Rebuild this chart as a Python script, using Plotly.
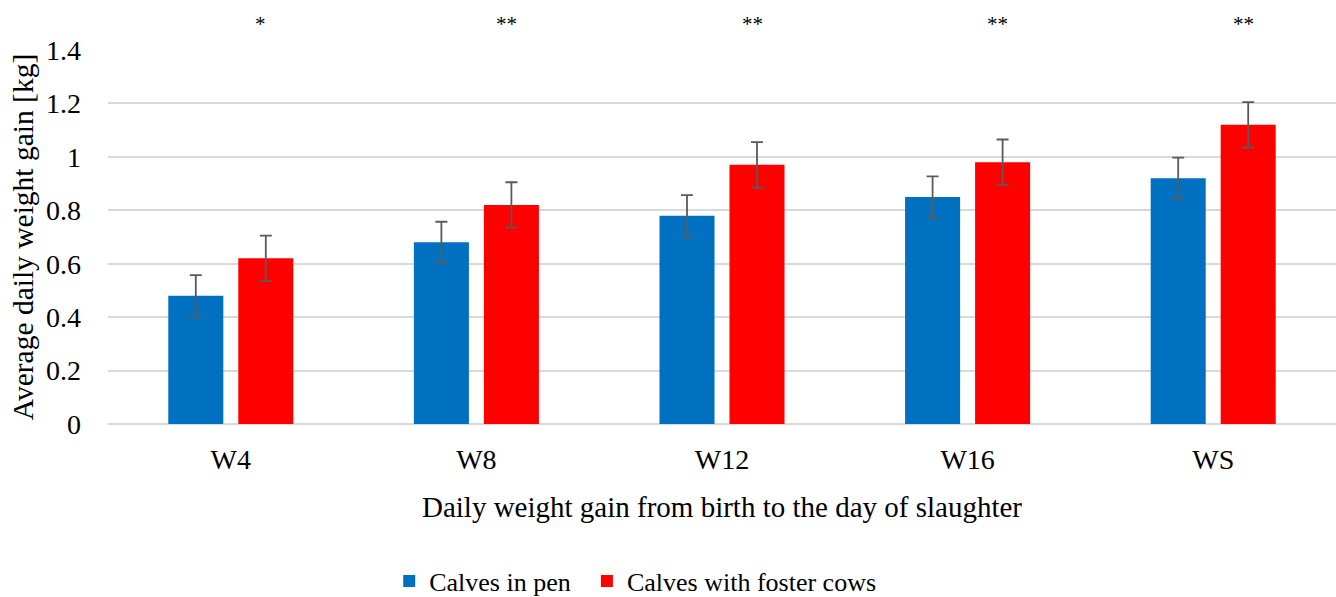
import plotly.graph_objects as go

categories = ["W4", "W8", "W12", "W16", "WS"]
pen_values = [0.48, 0.68, 0.78, 0.85, 0.92]
pen_errors = [0.077, 0.077, 0.077, 0.077, 0.077]
foster_values = [0.62, 0.82, 0.97, 0.98, 1.12]
foster_errors = [0.085, 0.085, 0.085, 0.085, 0.085]
significance = ["*", "**", "**", "**", "**"]

FONT = "Liberation Serif"

fig = go.Figure()
fig.add_trace(go.Bar(
    x=categories, y=pen_values, name="Calves in pen", legend="legend", showlegend=True,
    marker=dict(color="#0070C0", line=dict(width=0)),
    error_y=dict(type="data", array=pen_errors, visible=True,
                 color="#5a5a5a", thickness=1.8, width=6),
))
fig.add_trace(go.Bar(
    x=categories, y=foster_values, name="Calves with foster cows", legend="legend2", showlegend=True,
    marker=dict(color="#FF0000", line=dict(width=0)),
    error_y=dict(type="data", array=foster_errors, visible=True,
                 color="#5a5a5a", thickness=1.8, width=6),
))

for c, s in zip(categories, significance):
    fig.add_annotation(x=c, y=1.0, xref="x", yref="paper", yanchor="bottom",
                       text=s, showarrow=False, xshift=30, yshift=12,
                       font=dict(family=FONT, size=21, color="#000"))

legend_common = dict(orientation="h", xanchor="left", y=-0.42, yanchor="middle",
                     font=dict(size=26), itemwidth=30, bgcolor="rgba(0,0,0,0)")

fig.update_layout(
    width=1336, height=597,
    showlegend=True,
    margin=dict(l=108, r=0, t=50, b=173, autoexpand=False),
    paper_bgcolor="white", plot_bgcolor="white",
    barmode="group", bargap=0.43, bargroupgap=0.214,
    font=dict(family=FONT, size=28, color="#000"),
    xaxis=dict(title=dict(text="Daily weight gain from birth to the day of slaughter",
                          font=dict(size=29), standoff=22),
               showline=False, ticks="", tickfont=dict(size=28), ticklabelstandoff=16),
    yaxis=dict(title=dict(text="Average daily weight gain [kg]", font=dict(size=29.5), standoff=3),
               range=[0, 1.4], dtick=0.2, tickformat="~g",
               showgrid=True, gridcolor="#d9d9d9", gridwidth=1.5,
               zeroline=True, zerolinecolor="#d9d9d9", zerolinewidth=1.5,
               ticks="", tickfont=dict(size=28), ticklabelstandoff=26),
    legend=dict(x=0.229, **legend_common),
    legend2=dict(x=0.390, **legend_common),
)

fig.write_html("out.html")
